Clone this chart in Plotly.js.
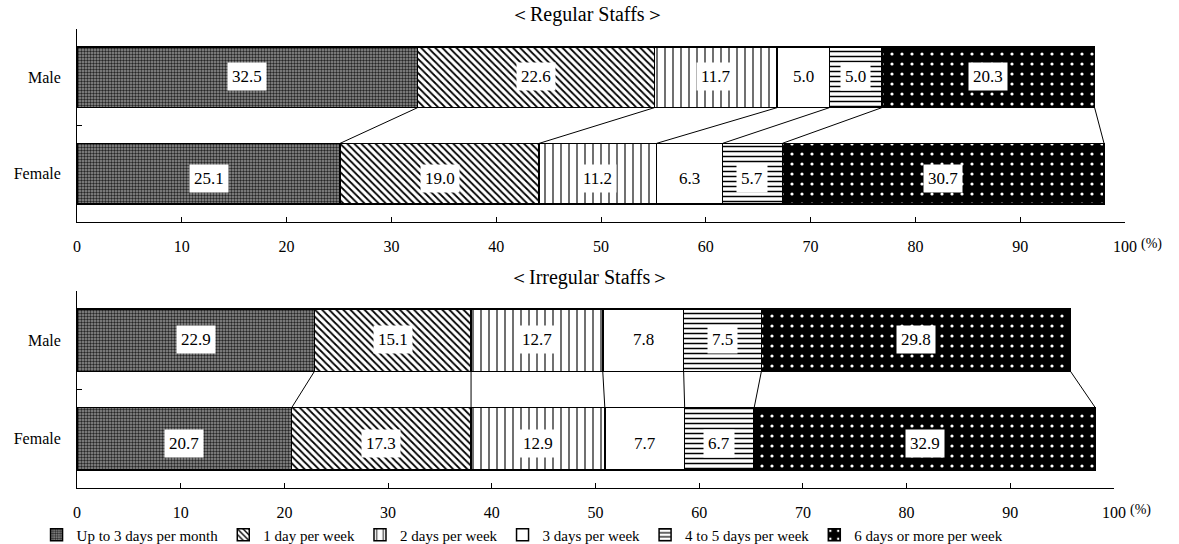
<!DOCTYPE html>
<html>
<head>
<meta charset="utf-8">
<script src="https://cdn.plot.ly/plotly-3.0.1.min.js"></script>
<style>
  html, body { margin: 0; padding: 0; background: #fff; }
  #chart { width: 1179px; height: 544px; }
</style>
</head>
<body>
<div id="chart"></div>
<script>
// Working-day frequency, share of staff (%)
const categories = ['Male', 'Female'];
const seriesNames = [
  'Up to 3 days per month',
  '1 day per week',
  '2 days per week',
  '3 days per week',
  '4 to 5 days per week',
  '6 days or more per week'
];
const regularMale = [32.5, 22.6, 11.7, 5.0, 5.0, 20.3];
const regularFemale = [25.1, 19.0, 11.2, 6.3, 5.7, 30.7];
const irregularMale = [22.9, 15.1, 12.7, 7.8, 7.5, 29.8];
const irregularFemale = [20.7, 17.3, 12.9, 7.7, 6.7, 32.9];
const panelTitles = ['＜Regular Staffs＞', '＜Irregular Staffs＞'];

const FONT = 'Times New Roman, Liberation Serif, DejaVu Serif, serif';
const BAR_WIDTH = 0.63;

// Fill patterns, one per frequency band
const patterns = [
  { shape: '.', bgcolor: '#949494', fgcolor: '#262626', size: 3, solidity: 0.5, fillmode: 'replace' },
  { shape: '\\', bgcolor: '#ffffff', fgcolor: '#000000', size: 5, solidity: 0.35, fillmode: 'replace' },
  { shape: '|', bgcolor: '#ffffff', fgcolor: '#000000', size: 8, solidity: 0.2, fgopacity: 0.7, fillmode: 'replace' },
  { shape: '', bgcolor: '#ffffff', fgcolor: '#000000', size: 8, solidity: 0.2, fillmode: 'replace' },
  { shape: '-', bgcolor: '#ffffff', fgcolor: '#000000', size: 5, solidity: 0.3, fillmode: 'replace' },
  { shape: '.', bgcolor: '#000000', fgcolor: '#ffffff', size: 10, solidity: 0.08, fillmode: 'replace' }
];

const panels = [
  { male: regularMale, female: regularFemale, xa: 'x', ya: 'y' },
  { male: irregularMale, female: irregularFemale, xa: 'x2', ya: 'y2' }
];

const traces = [];
const annotations = [];
const shapes = [];

function cumulative(arr) {
  const out = [0];
  arr.forEach(v => out.push(out[out.length - 1] + v));
  return out;
}

panels.forEach((p, pi) => {
  seriesNames.forEach((name, i) => {
    traces.push({
      type: 'bar',
      orientation: 'h',
      name: name,
      legendgroup: name,
      showlegend: pi === 0,
      y: categories,
      x: [p.male[i], p.female[i]],
      xaxis: p.xa,
      yaxis: p.ya,
      width: BAR_WIDTH,
      marker: {
        color: i === 5 ? '#000000' : (i === 0 ? '#7a7a7a' : '#ffffff'),
        line: { color: '#000000', width: 1.5 },
        pattern: patterns[i]
      },
      hoverinfo: 'skip'
    });
  });

  const cm = cumulative(p.male);
  const cf = cumulative(p.female);

  // value labels in white boxes at the centre of each segment
  [[p.male, cm, 'Male', 1], [p.female, cf, 'Female', -5]].forEach(([vals, cum, cat, ys]) => {
    vals.forEach((v, i) => {
      annotations.push({
        xref: p.xa, yref: p.ya,
        x: cum[i] + v / 2, y: cat,
        text: v.toFixed(1),
        showarrow: false,
        bgcolor: '#ffffff',
        borderpad: 4,
        yshift: ys,
        font: { family: FONT, size: 17, color: '#000' }
      });
    });
  });

  // connectors between matching segment boundaries (Male index 1, Female index 0)
  for (let i = 1; i < cm.length; i++) {
    shapes.push({
      type: 'line', xref: p.xa, yref: p.ya,
      x0: cm[i], y0: 1 - BAR_WIDTH / 2,
      x1: cf[i], y1: BAR_WIDTH / 2,
      line: { color: '#000', width: 1 }
    });
  }

  // percent unit next to the last tick
  annotations.push({
    xref: p.xa, yref: p.ya === 'y' ? 'y domain' : 'y2 domain',
    x: 100, y: 0, xanchor: 'left', yanchor: 'middle',
    xshift: 14, yshift: -22,
    text: '(%)', showarrow: false,
    font: { family: FONT, size: 14, color: '#000' }
  });
});

// panel headings
annotations.push({
  xref: 'paper', yref: 'paper', x: 0.487, y: 1, yanchor: 'bottom', yshift: 1,
  text: panelTitles[0], showarrow: false,
  font: { family: FONT, size: 20, color: '#000' }
});
annotations.push({
  xref: 'paper', yref: 'y2 domain', x: 0.489, y: 1, yanchor: 'bottom', yshift: 0,
  text: panelTitles[1], showarrow: false,
  font: { family: FONT, size: 20, color: '#000' }
});

const xCommon = {
  range: [0, 100],
  dtick: 10,
  tick0: 0,
  ticks: 'inside',
  ticklen: 5,
  tickcolor: '#000',
  showline: true,
  linecolor: '#000',
  linewidth: 1,
  showgrid: false,
  zeroline: false,
  fixedrange: true,
  ticklabelstandoff: 10,
  tickfont: { family: FONT, size: 16, color: '#000' }
};
const yCommon = {
  type: 'category',
  categoryorder: 'array',
  categoryarray: ['Female', 'Male'],
  range: [-0.5, 1.5],
  ticks: 'inside',
  tickson: 'boundaries',
  ticklen: 5,
  tickcolor: '#000',
  showline: true,
  linecolor: '#000',
  linewidth: 1,
  showgrid: false,
  zeroline: false,
  fixedrange: true,
  ticklabelstandoff: 12,
  tickfont: { family: FONT, size: 16, color: '#000' }
};

const layout = {
  width: 1179,
  height: 544,
  margin: { l: 77, r: 54, t: 29, b: 56, autoexpand: false },
  paper_bgcolor: '#fff',
  plot_bgcolor: '#fff',
  barmode: 'stack',
  showlegend: true,
  legend: {
    orientation: 'h',
    xref: 'container', yref: 'container',
    x: 0.031, xanchor: 'left',
    y: 0.0165, yanchor: 'middle',
    bgcolor: 'rgba(0,0,0,0)',
    itemwidth: 30,
    traceorder: 'normal',
    font: { family: FONT, size: 15, color: '#000' }
  },
  xaxis: Object.assign({}, xCommon, { domain: [0, 1], anchor: 'y' }),
  yaxis: Object.assign({}, yCommon, { domain: [0.5795, 1], anchor: 'x' }),
  xaxis2: Object.assign({}, xCommon, { domain: [0, 0.9895], anchor: 'y2' }),
  yaxis2: Object.assign({}, yCommon, { domain: [0, 0.4292], anchor: 'x2' }),
  annotations: annotations,
  shapes: shapes
};

Plotly.newPlot('chart', traces, layout, { displayModeBar: false, staticPlot: true });
</script>
</body>
</html>
